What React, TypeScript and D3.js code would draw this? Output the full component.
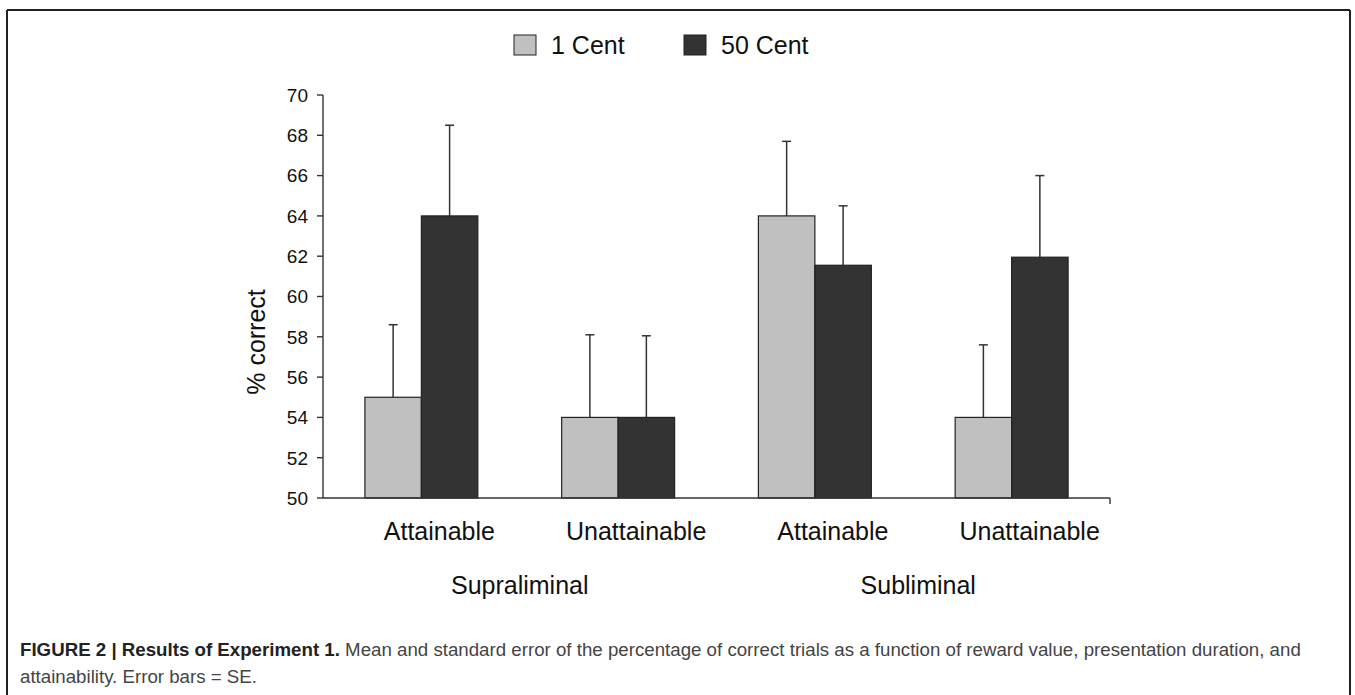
import React from "react";
import * as d3 from "d3";

const categories = ["Supra-Attainable", "Supra-Unattainable", "Sub-Attainable", "Sub-Unattainable"];
const categoryLabels = ["Attainable", "Unattainable", "Attainable", "Unattainable"];
const groups = ["Supraliminal", "Subliminal"];
const groupMembers = [[0, 1], [2, 3]];
const seriesNames = ["1 Cent", "50 Cent"];
const seriesColors = ["#c0c0c0", "#333333"];
const oneCentMean = [55, 54, 64, 54];
const oneCentUpper = [58.6, 58.1, 67.7, 57.6];
const fiftyCentMean = [64, 54, 61.55, 61.95];
const fiftyCentUpper = [68.5, 58.05, 64.5, 66];
const yTicks = [50, 52, 54, 56, 58, 60, 62, 64, 66, 68, 70];
const yLabel = "% correct";
const captionBold = "FIGURE 2 | Results of Experiment 1.";
const captionRest1 = " Mean and standard error of the percentage of correct trials as a function of reward value, presentation duration, and";
const captionLine2 = "attainability. Error bars = SE.";

const W = 1355;
const H = 695;
const FONT = "Arial, 'Liberation Sans', Helvetica, sans-serif";

export default function App() {
  const x = d3.scaleBand<string>().domain(categories).range([323, 1110]).paddingInner(0.426).paddingOuter(0.213);
  const xi = d3.scaleBand<string>().domain(seriesNames).range([0, x.bandwidth()]).padding(0);
  const y = d3.scaleLinear().domain([50, 70]).range([498, 95]);
  const means = [oneCentMean, fiftyCentMean];
  const uppers = [oneCentUpper, fiftyCentUpper];
  const x0 = x.range()[0];
  const x1 = x.range()[1];
  const yBase = y(50);
  const labelShift = 18;

  return (
    <svg width={W} height={H} style={{ position: "absolute", left: 0, top: 0, background: "#fff" }} fontFamily={FONT}>
      {/* frame */}
      <line x1={7} x2={1350} y1={10} y2={10} stroke="#222" strokeWidth={2} />
      <line x1={7} x2={7} y1={10} y2={H} stroke="#222" strokeWidth={2} />
      <line x1={1350} x2={1350} y1={10} y2={H} stroke="#222" strokeWidth={2} />

      {/* legend */}
      {seriesNames.map((s, i) => {
        const lx = [514, 684][i];
        return (
          <g key={s}>
            <rect x={lx} y={35} width={22} height={20} fill={seriesColors[i]} stroke="#222" strokeWidth={1} />
            <text x={lx + 37} y={54} fontSize={25} fill="#111">{s}</text>
          </g>
        );
      })}

      {/* bars */}
      {categories.map((c, ci) => (
        <g key={c}>
          {seriesNames.map((s, si) => {
            const bx = (x(c) as number) + (xi(s) as number);
            const top = y(means[si][ci]);
            const cx = bx + xi.bandwidth() / 2;
            const eTop = y(uppers[si][ci]);
            return (
              <g key={s}>
                <line x1={cx} x2={cx} y1={top} y2={eTop} stroke="#333" strokeWidth={1.5} />
                <line x1={cx - 4.5} x2={cx + 4.5} y1={eTop} y2={eTop} stroke="#333" strokeWidth={1.5} />
                <rect x={bx} y={top} width={xi.bandwidth()} height={yBase - top} fill={seriesColors[si]} stroke="#222" strokeWidth={1.2} />
              </g>
            );
          })}
          <text x={(x(c) as number) + x.bandwidth() / 2 + labelShift} y={540} fontSize={25} textAnchor="middle" fill="#111">{categoryLabels[ci]}</text>
        </g>
      ))}

      {/* group labels */}
      {groups.map((g, gi) => {
        const a = x(categories[groupMembers[gi][0]]) as number;
        const b = (x(categories[groupMembers[gi][1]]) as number) + x.bandwidth();
        return (
          <text key={g} x={(a + b) / 2 + gi * 5} y={594} fontSize={25} textAnchor="middle" fill="#111">{g}</text>
        );
      })}

      {/* axes */}
      <line x1={x0} x2={x0} y1={y(70)} y2={yBase} stroke="#333" strokeWidth={1.4} />
      <line x1={x0} x2={x1} y1={yBase} y2={yBase} stroke="#333" strokeWidth={1.4} />
      <line x1={x1} x2={x1} y1={yBase} y2={yBase + 6} stroke="#333" strokeWidth={1.4} />
      {yTicks.map((t) => (
        <g key={t}>
          <line x1={x0 - 6} x2={x0} y1={y(t)} y2={y(t)} stroke="#333" strokeWidth={1.4} />
          <text x={308} y={y(t)} dy="0.36em" fontSize={19} textAnchor="end" fill="#111">{t}</text>
        </g>
      ))}
      <text transform={`translate(265,342) rotate(-90)`} fontSize={25} textAnchor="middle" fill="#111">{yLabel}</text>

      {/* caption */}
      <text x={20} y={656} fontSize={18.7} fill="#444">
        <tspan fontWeight="bold" fill="#222">{captionBold}</tspan>
        <tspan>{captionRest1}</tspan>
      </text>
      <text x={20} y={683} fontSize={18.7} fill="#444">{captionLine2}</text>
    </svg>
  );
}
